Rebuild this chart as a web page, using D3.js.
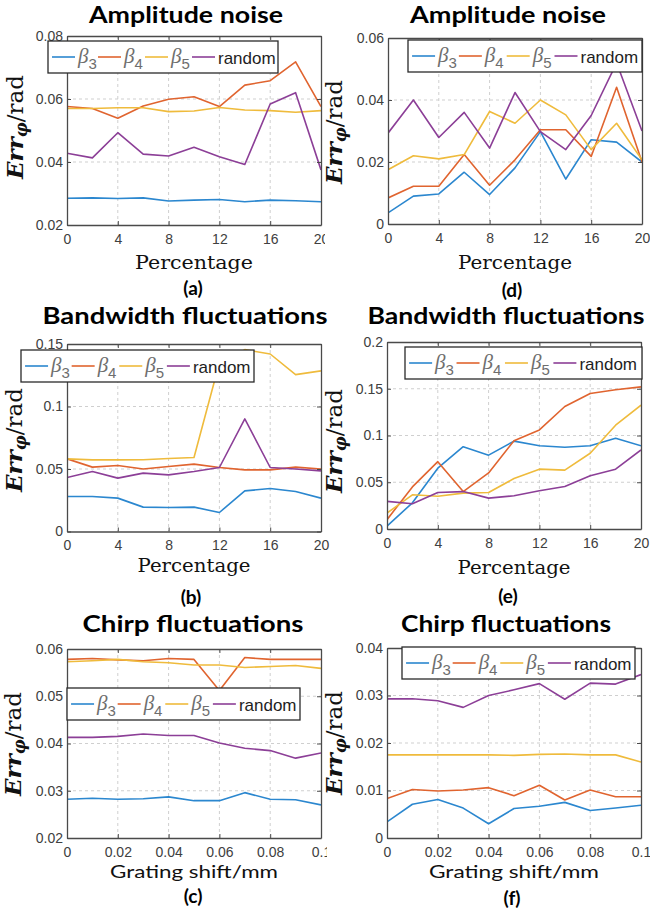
<!DOCTYPE html>
<html>
<head>
<meta charset="utf-8">
<script src="https://cdn.jsdelivr.net/npm/d3@7/dist/d3.min.js"></script>
<style>
  html, body { margin: 0; padding: 0; background: #fff; }
  svg { display: block; }
</style>
</head>
<body>
<svg id="fig" width="650" height="922"></svg>
<script>
// ---- x positions and tick labels ----
const pctSteps   = [0, 2, 4, 6, 8, 10, 12, 14, 16, 18, 20];
const pctTicks   = [0, 4, 8, 12, 16, 20];
const shiftSteps = [0, 0.01, 0.02, 0.03, 0.04, 0.05, 0.06, 0.07, 0.08, 0.09, 0.1];
const shiftTicks = [0, 0.02, 0.04, 0.06, 0.08, 0.1];

// ---- y tick labels ----
const yTicksAmpL = [0.02, 0.04, 0.06, 0.08];
const yTicksAmpR = [0, 0.02, 0.04, 0.06];
const yTicksBwL  = [0, 0.05, 0.1, 0.15];
const yTicksBwR  = [0, 0.05, 0.1, 0.15, 0.2];
const yTicksChL  = [0.02, 0.03, 0.04, 0.05, 0.06];
const yTicksChR  = [0, 0.01, 0.02, 0.03, 0.04];

// ---- series names ----
const seriesSymbol = ["β", "β", "β", "random"];
const seriesSub    = ["3", "4", "5", ""];

// ---- (a) amplitude noise ----
const ampL_b3   = [0.0285, 0.0286, 0.0284, 0.0286, 0.0276, 0.0279, 0.0281, 0.0274, 0.0279, 0.0277, 0.0274];
const ampL_b4   = [0.0576, 0.0570, 0.0539, 0.0578, 0.0599, 0.0607, 0.0576, 0.0644, 0.0658, 0.0718, 0.0576];
const ampL_b5   = [0.0570, 0.0570, 0.0572, 0.0572, 0.0560, 0.0562, 0.0573, 0.0565, 0.0563, 0.0558, 0.0563];
const ampL_rand = [0.0428, 0.0413, 0.0493, 0.0425, 0.0419, 0.0447, 0.0417, 0.0392, 0.0584, 0.0620, 0.0375];

// ---- (d) amplitude noise ----
const ampR_b3   = [0.0036, 0.0090, 0.0097, 0.0167, 0.0095, 0.0181, 0.0298, 0.0145, 0.0272, 0.0264, 0.0200];
const ampR_b4   = [0.0084, 0.0122, 0.0122, 0.0224, 0.0125, 0.0207, 0.0304, 0.0304, 0.0218, 0.0441, 0.0200];
const ampR_b5   = [0.0175, 0.0220, 0.0210, 0.0224, 0.0363, 0.0325, 0.0400, 0.0352, 0.0240, 0.0325, 0.0207];
const ampR_rand = [0.0293, 0.0400, 0.0279, 0.0360, 0.0245, 0.0424, 0.0298, 0.0240, 0.0350, 0.0520, 0.0300];

// ---- (b) bandwidth fluctuations ----
const bwL_b3   = [0.0280, 0.0280, 0.0267, 0.0195, 0.0192, 0.0195, 0.0152, 0.0325, 0.0344, 0.0320, 0.0267];
const bwL_b4   = [0.0581, 0.0515, 0.0528, 0.0500, 0.0520, 0.0539, 0.0512, 0.0493, 0.0493, 0.0515, 0.0500];
const bwL_b5   = [0.0581, 0.0573, 0.0573, 0.0574, 0.0584, 0.0592, 0.1350, 0.1455, 0.1420, 0.1255, 0.1285];
const bwL_rand = [0.0432, 0.0480, 0.0427, 0.0467, 0.0453, 0.0480, 0.0512, 0.0901, 0.0512, 0.0500, 0.0485];

// ---- (e) bandwidth fluctuations ----
const bwR_b3   = [0.0030, 0.0280, 0.0650, 0.0880, 0.0790, 0.0940, 0.0890, 0.0874, 0.0890, 0.0970, 0.0890];
const bwR_b4   = [0.0100, 0.0450, 0.0720, 0.0400, 0.0600, 0.0945, 0.1060, 0.1310, 0.1450, 0.1490, 0.1520];
const bwR_b5   = [0.0170, 0.0366, 0.0350, 0.0384, 0.0390, 0.0540, 0.0640, 0.0630, 0.0810, 0.1110, 0.1325];
const bwR_rand = [0.0295, 0.0270, 0.0390, 0.0400, 0.0330, 0.0355, 0.0410, 0.0455, 0.0570, 0.0640, 0.0845];

// ---- (c) chirp fluctuations ----
const chL_b3   = [0.0282, 0.0284, 0.0282, 0.0283, 0.0287, 0.0279, 0.0279, 0.0296, 0.0282, 0.0281, 0.0270];
const chL_b4   = [0.0578, 0.0580, 0.0577, 0.0575, 0.0580, 0.0578, 0.0512, 0.0582, 0.0578, 0.0578, 0.0578];
const chL_b5   = [0.0573, 0.0575, 0.0578, 0.0573, 0.0571, 0.0566, 0.0566, 0.0561, 0.0563, 0.0565, 0.0559];
const chL_rand = [0.0413, 0.0413, 0.0415, 0.0420, 0.0417, 0.0417, 0.0401, 0.0390, 0.0385, 0.0369, 0.0380];

// ---- (f) chirp fluctuations ----
const chR_b3   = [0.0034, 0.0071, 0.0081, 0.0063, 0.0030, 0.0062, 0.0067, 0.0075, 0.0058, 0.0063, 0.0069];
const chR_b4   = [0.0083, 0.0102, 0.0099, 0.0101, 0.0106, 0.0089, 0.0111, 0.0080, 0.0101, 0.0087, 0.0087];
const chR_b5   = [0.0175, 0.0175, 0.0175, 0.0175, 0.0175, 0.0174, 0.0176, 0.0177, 0.0175, 0.0175, 0.0160];
const chR_rand = [0.0293, 0.0293, 0.0289, 0.0275, 0.0300, 0.0312, 0.0325, 0.0292, 0.0326, 0.0324, 0.0344];

// ---- styling ----
const colors = ["#2b87cf", "#e0642f", "#efbb3c", "#8c3f97"];
const axisColor = "#4a4a4a";
const tickText = "#404040";
const sansTitle = "Lato, 'Open Sans', sans-serif";
const serif = "'DejaVu Serif', serif";
const tickFont = "'Liberation Sans', Arial, sans-serif";

// ---- panel layout ----
const panels = [
  { id: "a", title: "Amplitude noise", titleX: 186, titleY: 23, titleW: 194,
    box: [67, 321, 36, 225], xDomain: [0, 20], yDomain: [0.02, 0.08],
    xs: pctSteps, xTicks: pctTicks, yTicks: yTicksAmpL,
    series: [ampL_b3, ampL_b4, ampL_b5, ampL_rand],
    legend: [48, 41, 230],
    xlabel: "Percentage", xlabelSerif: true, xlabelY: 269, xlabelW: 118,
    ylab: [23, 127], tag: "(a)", tagX: 193, tagY: 295, clip: [0, 0, 325, 300] },
  { id: "d", title: "Amplitude noise", titleX: 508, titleY: 23, titleW: 196,
    box: [388, 642, 38, 224], xDomain: [0, 20], yDomain: [0, 0.06],
    xs: pctSteps, xTicks: pctTicks, yTicks: yTicksAmpR,
    series: [ampR_b3, ampR_b4, ampR_b5, ampR_rand],
    legend: [408, 40, 234],
    xlabel: "Percentage", xlabelSerif: true, xlabelY: 269, xlabelW: 114,
    ylab: [342, 132], tag: "(d)", tagX: 512, tagY: 297, clip: null },
  { id: "b", title: "Bandwidth fluctuations", titleX: 185, titleY: 324, titleW: 285,
    box: [67, 321, 344, 531.5], xDomain: [0, 20], yDomain: [0, 0.15],
    xs: pctSteps, xTicks: pctTicks, yTicks: yTicksBwL,
    series: [bwL_b3, bwL_b4, bwL_b5, bwL_rand],
    legend: [21, 350, 233],
    xlabel: "Percentage", xlabelSerif: true, xlabelY: 572, xlabelW: 113,
    ylab: [22, 440], tag: "(b)", tagX: 191, tagY: 604, clip: null },
  { id: "e", title: "Bandwidth fluctuations", titleX: 506, titleY: 324, titleW: 277,
    box: [387, 641, 342, 529], xDomain: [0, 20], yDomain: [0, 0.2],
    xs: pctSteps, xTicks: pctTicks, yTicks: yTicksBwR,
    series: [bwR_b3, bwR_b4, bwR_b5, bwR_rand],
    legend: [405, 347, 237],
    xlabel: "Percentage", xlabelSerif: true, xlabelY: 574, xlabelW: 113,
    ylab: [342, 441], tag: "(e)", tagX: 508, tagY: 603, clip: null },
  { id: "c", title: "Chirp fluctuations", titleX: 193, titleY: 632, titleW: 221,
    box: [67, 321, 649, 838], xDomain: [0, 0.1], yDomain: [0.02, 0.06],
    xs: shiftSteps, xTicks: shiftTicks, yTicks: yTicksChL,
    series: [chL_b3, chL_b4, chL_b5, chL_rand],
    legend: [67, 688, 233],
    xlabel: "Grating shift/mm", xlabelSerif: false, xlabelY: 878, xlabelW: 168,
    ylab: [21, 744], tag: "(c)", tagX: 193, tagY: 903, clip: [0, 600, 327, 322] },
  { id: "f", title: "Chirp fluctuations", titleX: 506, titleY: 632, titleW: 210,
    box: [387, 641, 648, 838], xDomain: [0, 0.1], yDomain: [0, 0.04],
    xs: shiftSteps, xTicks: shiftTicks, yTicks: yTicksChR,
    series: [chR_b3, chR_b4, chR_b5, chR_rand],
    legend: [402, 647, 233],
    xlabel: "Grating shift/mm", xlabelSerif: false, xlabelY: 878, xlabelW: 170,
    ylab: [342, 743], tag: "(f)", tagX: 512, tagY: 905, clip: null }
];

const svg = d3.select("#fig");
const defs = svg.append("defs");
const fmt = d3.format("~g");

function styleAxis(sel) {
  sel.attr("font-family", tickFont).attr("font-size", 14);
  sel.select(".domain").attr("stroke", axisColor).attr("stroke-width", 1.3);
  sel.selectAll(".tick line").attr("stroke", axisColor).attr("stroke-width", 1);
  sel.selectAll(".tick text").attr("fill", tickText);
}

function drawPanel(p) {
  const [x0, x1, y0, y1] = p.box;
  const g = svg.append("g");
  if (p.clip) {
    defs.append("clipPath").attr("id", "panel-" + p.id)
      .append("rect").attr("x", p.clip[0]).attr("y", p.clip[1])
      .attr("width", p.clip[2]).attr("height", p.clip[3]);
    g.attr("clip-path", `url(#panel-${p.id})`);
  }

  const x = d3.scaleLinear().domain(p.xDomain).range([x0, x1]);
  const y = d3.scaleLinear().domain(p.yDomain).range([y1, y0]);

  // dashed grid
  const grid = g.append("g").attr("stroke", "#cfcfcf").attr("stroke-width", 1)
    .attr("stroke-dasharray", "3,3");
  grid.selectAll(".gx").data(p.xTicks.slice(1, -1)).join("line")
    .attr("x1", d => x(d)).attr("x2", d => x(d)).attr("y1", y0).attr("y2", y1);
  grid.selectAll(".gy").data(p.yTicks.slice(1, -1)).join("line")
    .attr("x1", x0).attr("x2", x1).attr("y1", d => y(d)).attr("y2", d => y(d));

  // series lines, clipped to the axes box
  defs.append("clipPath").attr("id", "plot-" + p.id)
    .append("rect").attr("x", x0).attr("y", y0).attr("width", x1 - x0).attr("height", y1 - y0);
  const lines = g.append("g").attr("clip-path", `url(#plot-${p.id})`);
  const line = d3.line().x((d, i) => x(p.xs[i])).y(d => y(d));
  p.series.forEach((s, k) => {
    lines.append("path").datum(s).attr("d", line)
      .attr("fill", "none").attr("stroke", colors[k]).attr("stroke-width", 1.6)
      .attr("stroke-linejoin", "round");
  });

  // box with inward ticks on all four sides
  g.append("g").attr("transform", `translate(0,${y1})`)
    .call(d3.axisBottom(x).tickValues(p.xTicks).tickFormat(fmt).tickSize(-4).tickSizeOuter(0).tickPadding(9))
    .call(styleAxis);
  g.append("g").attr("transform", `translate(0,${y0})`)
    .call(d3.axisTop(x).tickValues(p.xTicks).tickFormat("").tickSize(-4).tickSizeOuter(0))
    .call(styleAxis);
  g.append("g").attr("transform", `translate(${x0},0)`)
    .call(d3.axisLeft(y).tickValues(p.yTicks).tickFormat(fmt).tickSize(-4).tickSizeOuter(0).tickPadding(4))
    .call(styleAxis);
  g.append("g").attr("transform", `translate(${x1},0)`)
    .call(d3.axisRight(y).tickValues(p.yTicks).tickFormat("").tickSize(-4).tickSizeOuter(0))
    .call(styleAxis);

  // legend
  const [lx, ly, lw] = p.legend;
  const sc = lw / 230;
  const lg = g.append("g").attr("transform", `translate(${lx},${ly})`);
  lg.append("rect").attr("width", lw).attr("height", 32)
    .attr("fill", "#fff").attr("stroke", "#2a2a2a").attr("stroke-width", 1.3);
  const offs = [4, 50, 97, 144].map(o => o * sc);
  seriesSymbol.forEach((sym, k) => {
    const o = offs[k];
    lg.append("line").attr("x1", o).attr("x2", o + 23).attr("y1", 16).attr("y2", 16)
      .attr("stroke", colors[k]).attr("stroke-width", 1.6);
    const t = lg.append("text").attr("x", o + 26).attr("y", 22);
    if (seriesSub[k]) {
      t.attr("font-family", "'Liberation Serif', serif").attr("fill", "#6e6e6e");
      t.append("tspan").attr("font-style", "italic").attr("font-size", 21).text(sym);
      t.append("tspan").attr("font-family", tickFont).attr("font-size", 15).attr("dy", 6).text(seriesSub[k]);
    } else {
      t.attr("font-family", tickFont).attr("font-size", 17).attr("fill", "#1e1e1e").attr("y", 23).text(sym);
    }
  });

  // title
  g.append("text").attr("x", p.titleX).attr("y", p.titleY)
    .attr("text-anchor", "middle").attr("font-family", sansTitle).attr("font-weight", 700)
    .attr("font-size", 22).attr("fill", "#000")
    .attr("textLength", p.titleW).attr("lengthAdjust", "spacingAndGlyphs")
    .text(p.title);

  // x label
  g.append("text").attr("x", (x0 + x1) / 2).attr("y", p.xlabelY)
    .attr("text-anchor", "middle")
    .attr("font-family", p.xlabelSerif ? serif : sansTitle)
    .attr("font-size", 18).attr("fill", "#111")
    .attr("textLength", p.xlabelW).attr("lengthAdjust", "spacingAndGlyphs")
    .text(p.xlabel);

  // y label: Err_φ / rad
  const yl = g.append("text").attr("text-anchor", "middle")
    .attr("font-family", serif).attr("font-size", 21).attr("fill", "#111");
  yl.append("tspan").attr("font-weight", 700).attr("font-style", "italic").text("Err");
  yl.append("tspan").attr("font-weight", 700).attr("font-style", "italic")
    .attr("font-size", 15).attr("dy", 4).text("φ");
  yl.append("tspan").attr("dy", -4).text("/rad");
  const len = yl.node().getComputedTextLength();
  const k = 104 / len;
  yl.attr("transform", `translate(${p.ylab[0]},${p.ylab[1]}) rotate(-90) scale(${k})`);

  // panel tag
  g.append("text").attr("x", p.tagX).attr("y", p.tagY)
    .attr("text-anchor", "middle").attr("font-family", sansTitle).attr("font-weight", 700)
    .attr("font-size", 19).attr("fill", "#000").text(p.tag);
}

panels.forEach(drawPanel);
</script>
</body>
</html>
